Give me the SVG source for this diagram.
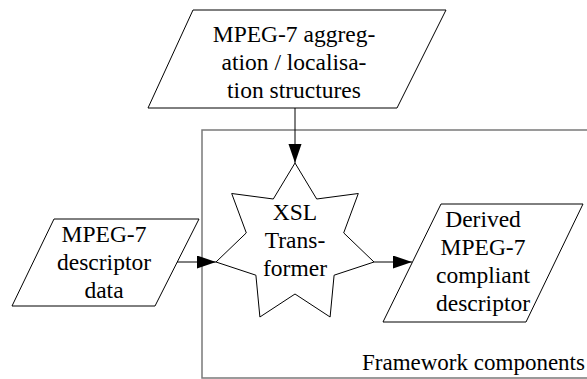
<svg xmlns="http://www.w3.org/2000/svg" width="587" height="379" viewBox="0 0 587 379">
<defs>
<marker id="ah" markerUnits="userSpaceOnUse" markerWidth="20" markerHeight="14" refX="19" refY="6.5" orient="auto">
<path d="M0,0 L19,6.5 L0,13 Z" fill="#000"/>
</marker>
</defs>
<style>
text{font-family:"Liberation Serif","Times New Roman",serif;font-size:23.5px;fill:#000}
.shape{fill:#fff;stroke:#000;stroke-width:1}
.frame{fill:none;stroke:#7a7a7a;stroke-width:1.5}
.conn{fill:none;stroke:#000;stroke-width:1;marker-end:url(#ah)}
</style>
<rect width="587" height="379" fill="#fff"/>
<g id="framework">
<path class="frame" d="M592,130 L202,130 L202,378 L592,378"/>
<text x="362" y="370" style="font-size:23px">Framework components</text>
</g>
<g id="aggregation">
<polygon class="shape" points="193,10 446,10 397,108 148,108"/>
<text x="294" y="42" text-anchor="middle">MPEG-7 aggreg-</text>
<text x="294" y="70" text-anchor="middle">ation / localisa-</text>
<text x="294" y="97.5" text-anchor="middle">tion structures</text>
</g>
<g id="descriptor-data">
<polygon class="shape" points="54,219 199,219 155,306 12,306"/>
<text x="104" y="242" text-anchor="middle">MPEG-7</text>
<text x="104" y="270" text-anchor="middle">descriptor</text>
<text x="104" y="297.5" text-anchor="middle">data</text>
</g>
<g id="xsl-transformer">
<polygon class="shape" points="295,163 316.7,199 358.3,193.5 343.7,232.9 374,262 334.1,275.2 330.1,317 295,294 259.9,317 255.9,275.2 216,262 246.3,232.9 231.7,193.5 273.3,199"/>
<text x="295" y="219.5" text-anchor="middle">XSL</text>
<text x="295" y="248" text-anchor="middle">Trans-</text>
<text x="295" y="276" text-anchor="middle">former</text>
</g>
<g id="derived">
<polygon class="shape" points="441,204 583,204 526,322 383,322"/>
<text x="483" y="227" text-anchor="middle">Derived</text>
<text x="483" y="255" text-anchor="middle">MPEG-7</text>
<text x="483" y="283" text-anchor="middle">compliant</text>
<text x="483" y="311" text-anchor="middle">descriptor</text>
</g>
<g id="connectors">
<line class="conn" x1="295" y1="108" x2="295" y2="163"/>
<line class="conn" x1="177" y1="262" x2="216" y2="262"/>
<line class="conn" x1="374" y1="262" x2="412" y2="262"/>
</g>
</svg>
